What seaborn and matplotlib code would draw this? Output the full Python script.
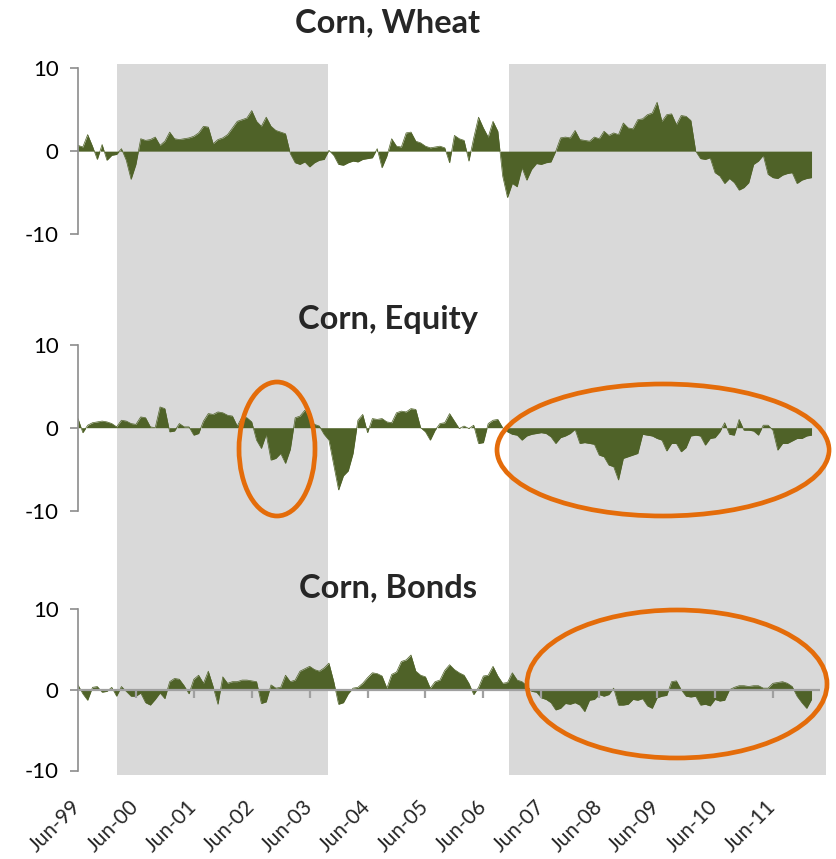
import numpy as np
import pandas as pd
import matplotlib
matplotlib.use("Agg")
import matplotlib.pyplot as plt
from matplotlib.patches import Ellipse
import seaborn as sns

# monthly readings, Jun-99 (month 0) to Feb-12
wheat = [0.7, 0.5, 2.0, 0.6, -1.0, 0.8, -1.1, -0.5, -0.4, 0.3,
         -1.1, -3.4, -1.6, 1.5, 1.3, 1.4, 1.7, 0.7, 1.2, 2.3,
         1.5, 1.4, 1.5, 1.6, 1.8, 2.2, 3.0, 2.9, 0.9, 1.4,
         1.6, 2.0, 2.8, 3.6, 3.8, 4.0, 4.9, 3.6, 3.0, 4.1,
         3.0, 2.5, 2.3, 2.1, -0.3, -1.4, -1.6, -1.3, -1.9, -1.4,
         -1.1, -1.0, 0.1, -0.5, -1.6, -1.7, -1.4, -1.2, -1.3, -1.0,
         -0.9, -0.8, 0.3, -2.0, -0.6, 1.5, 0.6, 0.5, 2.2, 2.3,
         1.2, 1.0, 0.6, 0.4, 0.5, 0.6, 0.4, -1.4, 1.9, 1.5,
         1.3, -1.2, 1.6, 4.1, 2.8, 1.7, 3.6, 2.4, -3.0, -5.6,
         -3.9, -4.3, -2.0, -3.5, -2.2, -1.5, -1.6, -1.4, -1.3, 0.0,
         1.6, 1.7, 1.6, 2.5, 1.4, 1.3, 1.2, 1.7, 1.5, 2.4,
         1.9, 2.2, 2.0, 3.4, 2.8, 2.7, 3.8, 3.9, 4.4, 4.6,
         5.9, 3.6, 4.4, 4.5, 3.2, 4.3, 4.2, 3.7, 0.0, -0.9,
         -1.0, -0.8, -2.6, -3.0, -3.9, -3.3, -3.8, -4.7, -4.4, -3.8,
         -1.6, -1.2, -0.5, -2.8, -3.2, -3.3, -2.9, -2.7, -2.6, -3.9,
         -3.5, -3.3, -3.2]

equity = [1.1, -0.6, 0.3, 0.6, 0.7, 0.8, 0.7, 0.5, 0.1, 0.9,
          0.8, 0.5, 0.4, 1.3, 1.2, 0.1, 0.0, 2.5, 2.3, -0.5,
          -0.4, 0.5, 0.1, 0.1, -0.9, -0.7, 0.8, 1.7, 1.6, 1.9,
          1.8, 1.5, 1.4, 0.2, 1.3, 1.2, 0.7, -1.5, -2.5, -0.8,
          -3.9, -3.7, -3.1, -4.3, -2.6, 1.2, 1.4, 2.1, 1.1, 0.4,
          0.2, -0.8, -1.5, -4.5, -7.5, -5.8, -5.2, -3.1, 0.9, 1.6,
          -0.6, 1.1, 1.0, 1.1, 0.7, 0.6, 1.8, 2.0, 1.9, 2.3,
          2.2, 0.0, -0.5, -1.5, -0.3, 0.5, 0.6, 1.7, 0.8, -0.1,
          0.2, -0.1, 0.3, -1.9, -1.8, 0.5, 0.9, 1.0, 0.0, -0.5,
          -0.8, -0.9, -1.5, -1.0, -0.8, -0.7, -0.6, -0.7, -1.1, -1.9,
          -1.2, -1.0, -0.7, -0.2, -1.9, -1.8, -1.9, -2.0, -3.3, -3.5,
          -4.5, -4.7, -6.3, -3.7, -3.5, -3.3, -3.1, -0.8, -0.9, -1.0,
          -1.3, -1.5, -2.8, -1.9, -1.9, -2.9, -2.4, -1.0, -0.9, -1.0,
          -2.1, -1.3, -1.2, -0.5, 0.6, -0.8, -0.9, 1.0, -0.3, -0.3,
          -0.4, -0.9, 0.3, 0.3, -0.3, -2.7, -1.9, -1.9, -1.6, -1.3,
          -1.3, -1.0, -0.9]

bonds = [0.6, -0.5, -1.3, 0.3, 0.4, -0.3, -0.2, 0.3, -0.8, 0.4,
         -0.2, -0.8, -0.8, -0.4, -1.6, -1.9, -1.2, -0.4, -1.1, 1.0,
         1.4, 1.3, 0.5, -0.5, 1.3, 1.8, 0.8, 2.3, 0.4, -1.8,
         1.6, 0.8, 1.0, 1.0, 1.2, 1.2, 1.1, 1.0, -1.7, -1.5,
         0.6, 0.2, 0.3, 1.8, 1.0, 1.2, 2.3, 2.6, 2.9, 2.5,
         2.3, 2.7, 3.3, 1.0, -1.8, -1.6, -0.5, 0.2, 0.3, 0.8,
         1.5, 2.1, 2.0, 1.7, 0.2, 1.9, 2.2, 3.5, 3.7, 4.3,
         2.3, 1.8, 1.6, 0.2, 1.0, 1.2, 2.4, 3.1, 2.5, 2.1,
         1.8, 0.8, -0.6, 0.3, 1.7, 1.8, 2.9, 1.7, 0.8, 0.9,
         2.1, 1.2, 1.0, 0.5, -0.2, -0.3, -1.0, -1.2, -1.6, -2.5,
         -2.3, -1.7, -1.8, -1.6, -1.9, -2.7, -1.3, -1.2, -0.6, -0.8,
         -0.6, 0.2, -1.9, -1.9, -1.8, -1.2, -1.3, -1.1, -2.0, -2.3,
         -1.0, -0.8, -0.7, 1.0, 1.1, 0.0, -0.8, -0.9, -0.8, -1.9,
         -1.8, -2.0, -1.2, -1.4, -1.3, 0.0, 0.3, 0.5, 0.5, 0.4,
         0.5, 0.5, 0.2, 0.2, 0.8, 0.9, 1.0, 0.8, 0.4, -0.8,
         -1.6, -2.3, -1.2]

titles = ["Corn, Wheat", "Corn, Equity", "Corn, Bonds"]
tick_labels = ["Jun-%02d" % (y % 100) for y in range(1999, 2012)]
# shaded regimes, in months from Jun-99
shade_periods = [(8.0, 51.8), (89.3, 155.0)]

months = np.arange(len(wheat))
df = pd.DataFrame({"month": months, "wheat": wheat, "equity": equity, "bonds": bonds})

sns.set_theme(style="white")
plt.rcParams["font.family"] = ["Lato", "DejaVu Sans"]

green = "#4F6228"
shade = "#D9D9D9"
orange = "#E46C0A"
axis_gray = "#8C8C8C"

W, H = 837, 859
fig = plt.figure(figsize=(W / 100, H / 100), dpi=100)

def fx(px):
    return px / W

def fy(py):
    return 1 - py / H

x0, x1 = 78, 826
xmax = 155.0

# background shading across all panels
bg = fig.add_axes([fx(x0), fy(774.7), fx(x1) - fx(x0), fy(64) - fy(774.7)])
bg.set_xlim(0, xmax)
bg.set_ylim(0, 1)
for a, b in shade_periods:
    bg.axvspan(a, b, color=shade, lw=0)
bg.axis("off")

panels = [("wheat", 68.3, 234.0), ("equity", 344.7, 510.7), ("bonds", 609.0, 770.5)]
axes = []
for i, (col, top, bot) in enumerate(panels):
    ax = fig.add_axes([fx(x0), fy(bot), fx(x1) - fx(x0), fy(top) - fy(bot)])
    ax.set_facecolor("none")
    sns.lineplot(data=df, x="month", y=col, ax=ax, color=green, linewidth=0.5)
    ax.fill_between(df["month"], 0, df[col], color=green, linewidth=0)
    ax.set_xlim(0, xmax)
    ax.set_ylim(-10, 10)
    ax.set_yticks([-10, 0, 10])
    ax.set_yticklabels(["-10", "0", "10"])
    ax.set_xlabel("")
    ax.set_ylabel("")
    for s in ["top", "right", "bottom"]:
        ax.spines[s].set_visible(False)
    ax.spines["left"].set_color(axis_gray)
    ax.spines["left"].set_linewidth(1.2)
    ax.tick_params(axis="y", which="both", left=True, direction="out", length=6,
                   width=1.2, color=axis_gray, pad=8, labelsize=16, labelcolor="black")
    ax.grid(False)
    axes.append(ax)

for ax in axes[:2]:
    ax.set_xticks([])

# bottom panel: zero axis line with yearly ticks, labels at the bottom
ax = axes[2]
tick_pos = np.arange(0, 12 * len(tick_labels), 12)
ax.hlines(0, 0, 153.8, color="#A0A0A0", linewidth=1.6, zorder=5)
ax.vlines(tick_pos[1:], -1.0, 0, color="#A0A0A0", linewidth=1.6, zorder=5)
ax.set_xticks(tick_pos)
ax.set_xticklabels(tick_labels, rotation=45, ha="right", va="center",
                   rotation_mode="anchor")
ax.tick_params(axis="x", bottom=True, length=0, pad=24, labelsize=15)

title_y = [23, 320, 588]
for t, ty in zip(titles, title_y):
    fig.text(fx(388), fy(ty), t, ha="center", va="center", fontsize=23.5,
             fontweight="bold")

# orange highlight ellipses (figure pixel centres and sizes)
for cx, cy, w, h in [(277, 449, 76, 134), (663, 450, 332, 132), (677, 684, 300, 148)]:
    e = Ellipse((fx(cx), fy(cy)), w / W, h / H, transform=fig.transFigure,
                fill=False, edgecolor=orange, linewidth=3.4, zorder=10)
    fig.add_artist(e)

fig.savefig("out.png", dpi=100)
